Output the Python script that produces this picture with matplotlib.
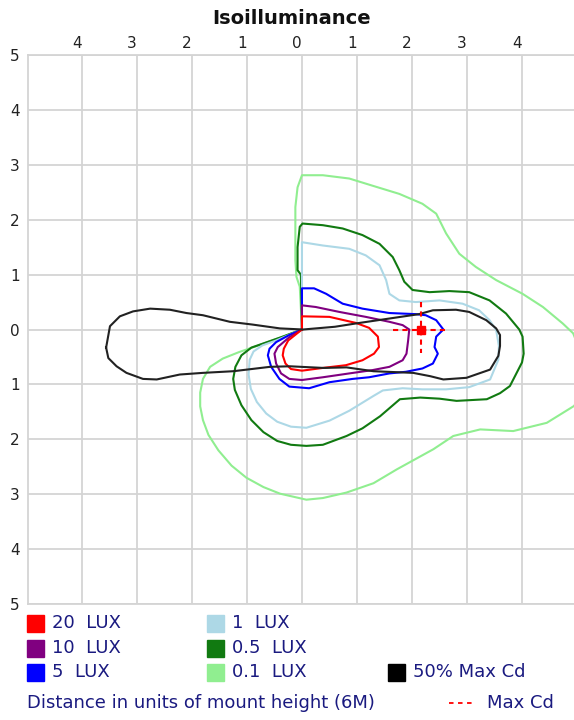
import numpy as np
import matplotlib.pyplot as plt
import matplotlib.transforms as mtransforms
from matplotlib.patches import Rectangle
from matplotlib.lines import Line2D

# Isolux contours, in units of mount height (x: along road, y: across)
lux20_x = [0, 0, 0.5, 0.98, 1.22, 1.38, 1.40, 1.31, 1.10, 0.80, 0.38, 0.0, -0.2, -0.3, -0.35, -0.33, -0.25, -0.1, 0]
lux20_y = [0, 0.24, 0.23, 0.12, 0.03, -0.13, -0.32, -0.44, -0.56, -0.65, -0.70, -0.75, -0.72, -0.62, -0.47, -0.35, -0.2, -0.08, 0]

lux10_x = [0, 0, 0.25, 0.68, 1.16, 1.59, 1.83, 1.95, 1.93, 1.90, 1.83, 1.59, 1.28, 0.86, 0.38, 0.0,
           -0.23, -0.38, -0.47, -0.50, -0.44, -0.23, 0]
lux10_y = [0, 0.44, 0.41, 0.32, 0.23, 0.14, 0.08, 0.0, -0.20, -0.44, -0.56, -0.68, -0.74, -0.80, -0.87, -0.92,
           -0.90, -0.80, -0.62, -0.44, -0.32, -0.14, 0]

lux5_x = [0, 0, 0.22, 0.44, 0.74, 1.10, 1.59, 2.07, 2.25, 2.44, 2.57, 2.44, 2.41, 2.47, 2.38, 2.19, 1.89, 1.59,
          1.22, 0.92, 0.50, 0.13, -0.23, -0.41, -0.56, -0.62, -0.59, -0.47, -0.23, 0]
lux5_y = [0, 0.75, 0.75, 0.65, 0.47, 0.38, 0.30, 0.28, 0.26, 0.17, 0.0, -0.13, -0.32, -0.44, -0.62, -0.71, -0.77, -0.80,
          -0.87, -0.90, -0.96, -1.07, -1.04, -0.90, -0.68, -0.47, -0.35, -0.23, -0.10, 0]

lux1_x = [0, 0, 0, 0.38, 0.86, 1.16, 1.41, 1.53, 1.59, 1.77, 2.07, 2.50, 2.92, 3.22, 3.41, 3.53, 3.58, 3.57, 3.42,
          3.04, 2.62, 2.19, 1.83, 1.47, 1.30, 0.86, 0.50, 0.08, -0.20, -0.45, -0.65, -0.82, -0.93, -0.97, -0.95,
          -0.88, -0.72, -0.47, 0]
lux1_y = [0, 1.2, 1.59, 1.53, 1.47, 1.35, 1.17, 0.90, 0.65, 0.53, 0.50, 0.53, 0.47, 0.35, 0.17, -0.01, -0.30, -0.55, -0.91,
          -1.05, -1.09, -1.09, -1.07, -1.11, -1.21, -1.48, -1.66, -1.79, -1.77, -1.68, -1.53, -1.32, -1.08, -0.82, -0.55,
          -0.40, -0.29, -0.20, 0]

lux05_x = [0, -0.02, -0.08, -0.08, -0.04, 0.01, 0.38, 0.74, 1.10, 1.41, 1.65, 1.77, 1.86, 2.01, 2.32, 2.68, 3.04,
           3.41, 3.71, 3.95, 4.01, 4.03, 4.00, 3.78, 3.60, 3.36, 2.81, 2.50, 2.15, 1.78, 1.42, 1.10, 0.81, 0.38, 0.08,
           -0.20, -0.45, -0.70, -0.92, -1.10, -1.22, -1.25, -1.21, -1.10, -0.92, -0.72, -0.35, 0]
lux05_y = [0, 1.0, 1.08, 1.50, 1.87, 1.93, 1.90, 1.84, 1.72, 1.56, 1.32, 1.08, 0.87, 0.72, 0.68, 0.70, 0.68,
           0.53, 0.29, 0.0, -0.13, -0.44, -0.60, -1.03, -1.16, -1.27, -1.30, -1.26, -1.24, -1.27, -1.58, -1.80, -1.94,
           -2.10, -2.12, -2.10, -2.03, -1.87, -1.65, -1.38, -1.10, -0.90, -0.68, -0.47, -0.33, -0.26, -0.13, 0]

lux01_x = [0, -0.04, -0.10, -0.12, -0.12, -0.08, 0, 0.38, 0.86, 1.28, 1.77, 2.19, 2.44, 2.62, 2.86, 3.16, 3.53,
           4.01, 4.38, 4.74, 4.93, 5.1, 5.15, 4.95, 4.45, 3.84, 3.24, 2.75, 2.39, 1.72, 1.30, 0.81, 0.38, 0.08,
           -0.40, -0.70, -1.01, -1.28, -1.52, -1.70, -1.80, -1.85, -1.85, -1.80, -1.67, -1.44, -1.14, -0.82, -0.40, 0]
lux01_y = [0, 0.78, 0.96, 1.26, 2.23, 2.59, 2.81, 2.81, 2.75, 2.62, 2.47, 2.29, 2.11, 1.75, 1.38, 1.14, 0.90,
           0.65, 0.41, 0.11, -0.07, -0.5, -1.0, -1.39, -1.70, -1.85, -1.82, -1.94, -2.18, -2.55, -2.80, -2.97, -3.07, -3.10,
           -2.99, -2.87, -2.70, -2.48, -2.20, -1.92, -1.65, -1.40, -1.15, -0.90, -0.68, -0.53, -0.41, -0.30, -0.15, 0]

cd50_x = [-3.56, -3.49, -3.31, -3.07, -2.76, -2.40, -2.10, -1.80, -1.31, -0.90, -0.40, 0.02, 0.60, 0.98, 1.59,
          2.13, 2.38, 2.80, 3.04, 3.35, 3.53, 3.60, 3.60, 3.57, 3.42, 2.99, 2.57, 2.33, 2.02, 1.30, 0.81, 0.39,
          -0.22, -0.58, -1.25, -1.80, -2.22, -2.64, -2.89, -3.19, -3.37, -3.52, -3.56]
cd50_y = [-0.33, 0.06, 0.24, 0.33, 0.38, 0.36, 0.30, 0.26, 0.14, 0.09, 0.02, 0.0, 0.05, 0.11, 0.20,
          0.28, 0.35, 0.36, 0.32, 0.17, 0.02, -0.10, -0.30, -0.48, -0.73, -0.88, -0.91, -0.85, -0.79, -0.76, -0.69, -0.70,
          -0.67, -0.68, -0.76, -0.79, -0.82, -0.91, -0.90, -0.79, -0.67, -0.52, -0.33]

max_cd = (2.17, 0.0)
max_cd_h = [1.65, 2.60]
max_cd_v = [0.51, -0.43]

contours = [
    (lux01_x, lux01_y, '#90ee90'),
    (lux05_x, lux05_y, '#117a11'),
    (lux1_x, lux1_y, '#add8e6'),
    (lux5_x, lux5_y, '#0000ff'),
    (lux10_x, lux10_y, '#800080'),
    (lux20_x, lux20_y, '#ff0000'),
    (cd50_x, cd50_y, '#222222'),
]

x_ticks = [-4, -3, -2, -1, 0, 1, 2, 3, 4]
y_ticks = [-5, -4, -3, -2, -1, 0, 1, 2, 3, 4, 5]

legend_labels = ['20  LUX', '10  LUX', '5  LUX', '1  LUX', '0.5  LUX', '0.1  LUX', '50% Max Cd']
legend_colors = ['#ff0000', '#800080', '#0000ff', '#add8e6', '#117a11', '#90ee90', '#000000']

W, H = 574, 720
grid_c = '#d4d4d4'
navy = '#1a1a80'

fig = plt.figure(figsize=(W / 100, H / 100), dpi=100)
ax = fig.add_axes([28 / W, (H - 604) / H, 1 - 28 / W, 549 / H])
ax.set_xlim(-4.98, 4.945)
ax.set_ylim(-5, 5)

for xs, ys, c in contours:
    ax.plot(xs, ys, color=c, lw=1.5, solid_joinstyle='round')

ax.plot(max_cd_h, [max_cd[1]] * 2, color='red', lw=1.5, ls=(0, (2.5, 2)))
ax.plot([max_cd[0]] * 2, max_cd_v, color='red', lw=1.5, ls=(0, (2.5, 2)))
ax.plot([max_cd[0]], [max_cd[1]], marker='s', ms=5.5, color='red', ls='none')

ax.set_xticks(x_ticks)
ax.set_xticklabels([str(abs(v)) for v in x_ticks])
ax.set_yticks(y_ticks)
ax.set_yticklabels([str(abs(v)) for v in y_ticks])
ax.xaxis.tick_top()
ax.tick_params(length=0, labelsize=11, labelcolor='#222222')
ax.tick_params(axis='x', pad=3)
ax.tick_params(axis='y', pad=6)
off = mtransforms.ScaledTranslation(-5 / 100, 0, fig.dpi_scale_trans)
for lab in ax.get_xticklabels():
    lab.set_transform(lab.get_transform() + off)
ax.grid(True, color=grid_c, lw=1.3)
ax.set_axisbelow(True)
for s in ax.spines.values():
    s.set_color(grid_c)
    s.set_linewidth(1.3)
ax.spines['right'].set_visible(False)

fig.text(292 / W, 1 - 18 / H, 'Isoilluminance', ha='center', va='center',
         fontsize=14, fontweight='bold', color='#111111')

# legend
def fp(x, y):
    return x / W, 1 - y / H

col_x = [27, 27, 27, 207, 207, 207, 388]
row_y = [623, 648, 672, 623, 648, 672, 672]
sq = 17
for lab, c, cx, ry in zip(legend_labels, legend_colors, col_x, row_y):
    fig.add_artist(Rectangle(fp(cx, ry + sq / 2), sq / W, sq / H, color=c,
                             transform=fig.transFigure))
    fig.text(*fp(cx + sq + 8, ry), lab, ha='left', va='center', fontsize=13, color=navy)

fig.text(*fp(27, 703), 'Distance in units of mount height (6M)', ha='left', va='center',
         fontsize=13, color=navy)
fig.add_artist(Line2D([449 / W, 476 / W], [1 - 703 / H] * 2, color='red', lw=1.3,
                      ls=(0, (2.5, 2.5)), transform=fig.transFigure))
fig.text(*fp(487, 703), 'Max Cd', ha='left', va='center', fontsize=13, color=navy)

fig.savefig('out.png', dpi=100)
